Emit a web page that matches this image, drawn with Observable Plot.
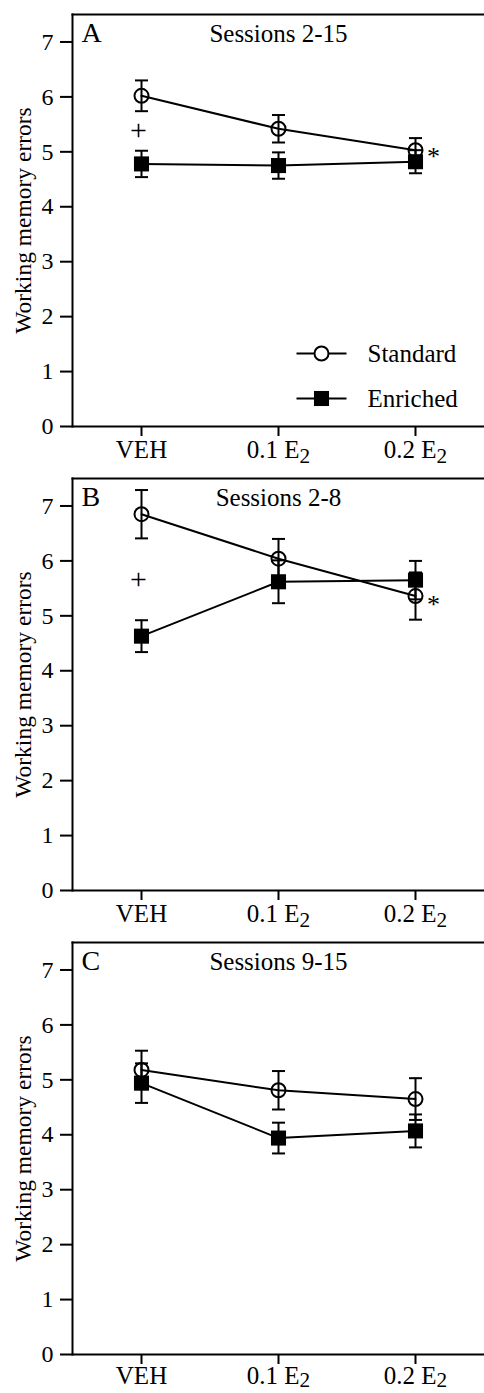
<!DOCTYPE html>
<html>
<head>
<meta charset="utf-8">
<script src="https://cdn.jsdelivr.net/npm/d3@7"></script>
<script src="https://cdn.jsdelivr.net/npm/@observablehq/plot@0.6"></script>
<style>
  html, body { margin: 0; padding: 0; background: #fff; overflow: hidden; }
  #chart { width: 484px; }
  #chart svg { display: block; overflow: visible; }
</style>
</head>
<body>
<div id="chart"></div>
<script>
// ---- data ----
const doses = ["VEH", "0.1 E2", "0.2 E2"];
const panelLetters = ["A", "B", "C"];
const panelTitles = ["Sessions 2-15", "Sessions 2-8", "Sessions 9-15"];
const seriesNames = ["Standard", "Enriched"];
// one row per panel, one value per dose
const standardMeans = [[6.02, 5.42, 5.03], [6.85, 6.04, 5.36], [5.18, 4.81, 4.65]];
const standardSems  = [[0.28, 0.25, 0.22], [0.44, 0.36, 0.43], [0.35, 0.35, 0.38]];
const enrichedMeans = [[4.78, 4.75, 4.82], [4.63, 5.62, 5.65], [4.94, 3.94, 4.07]];
const enrichedSems  = [[0.24, 0.24, 0.21], [0.29, 0.39, 0.35], [0.36, 0.28, 0.30]];
const yTicks = [0, 1, 2, 3, 4, 5, 6, 7];
const yLabel = "Working memory errors";
// significance markers: panel index, dose, value, symbol
const annotPanels  = [0, 0, 1, 1];
const annotDoses   = ["VEH", "0.2 E2", "VEH", "0.2 E2"];
const annotValues  = [5.38, 5.03, 5.64, 5.32];
const annotSymbols = ["+", "*", "+", "*"];

const FONT = "'Liberation Serif', 'Times New Roman', serif";
const lineSymbol = {draw(ctx) { ctx.moveTo(-25, 0); ctx.lineTo(25, 0); }};
const capSymbol = {draw(ctx) { ctx.moveTo(-6.5, 0); ctx.lineTo(6.5, 0); }};

function panel(p) {
  const last = p === 2;
  const rows = [];
  doses.forEach((d, i) => {
    rows.push({series: seriesNames[0], dose: d, mean: standardMeans[p][i], sem: standardSems[p][i]});
    rows.push({series: seriesNames[1], dose: d, mean: enrichedMeans[p][i], sem: enrichedSems[p][i]});
  });
  const std = rows.filter(r => r.series === seriesNames[0]);
  const enr = rows.filter(r => r.series === seriesNames[1]);
  const ann = annotPanels.map((q, i) => ({q, dose: annotDoses[i], value: annotValues[i], symbol: annotSymbols[i]}))
    .filter(a => a.q === p);

  const marks = [
    Plot.frame({anchor: "left", strokeWidth: 2}),
    Plot.frame({anchor: "top", strokeWidth: 2}),
    Plot.frame({anchor: "bottom", strokeWidth: 2}),
    Plot.axisY(yTicks, {tickSize: 12, tickPadding: 7, strokeWidth: 2, fontSize: 24, label: null, tickFormat: d => String(d)}),
    Plot.axisX({tickSize: 10, tickPadding: last ? 2 : 4, strokeWidth: 2, fontSize: 25, label: null}),
    // error bars
    Plot.ruleX(rows, {x: "dose", y1: d => d.mean - d.sem, y2: d => d.mean + d.sem, strokeWidth: 2}),
    Plot.dot(rows, {x: "dose", y: d => d.mean + d.sem, symbol: capSymbol, fill: "none", stroke: "black", strokeWidth: 2}),
    Plot.dot(rows, {x: "dose", y: d => d.mean - d.sem, symbol: capSymbol, fill: "none", stroke: "black", strokeWidth: 2}),
    // connecting lines
    Plot.line(rows, {x: "dose", y: "mean", z: "series", stroke: "black", strokeWidth: 2}),
    // markers
    Plot.dot(std, {x: "dose", y: "mean", r: 7, symbol: "circle", fill: "none", stroke: "black", strokeWidth: 2}),
    Plot.dot(enr, {x: "dose", y: "mean", r: 8.5, symbol: "square", fill: "black", stroke: "none"}),
    // significance markers
    Plot.text(ann.filter(a => a.symbol === "+"), {x: "dose", y: "value", text: "symbol", fontSize: 30, dx: -3, dy: -1, lineAnchor: "middle"}),
    Plot.text(ann.filter(a => a.symbol === "*"), {x: "dose", y: "value", text: "symbol", fontSize: 26, dx: 18, dy: 6, lineAnchor: "middle"}),
    // panel letter and title
    Plot.text([panelLetters[p]], {frameAnchor: "top-left", text: d => d, fontSize: 28, dx: 9, dy: 19, textAnchor: "start", lineAnchor: "middle"}),
    Plot.text([panelTitles[p]], {frameAnchor: "top", text: d => d, fontSize: 25, dy: 19.5, textAnchor: "middle", lineAnchor: "middle"}),
    // y label
    Plot.text([yLabel], {frameAnchor: "left", text: d => d, rotate: -90, fontSize: 23.5, dx: -49.5, textAnchor: "middle", lineAnchor: "middle"})
  ];

  if (p === 0) {
    const legendRows = [{name: seriesNames[0], dy: -73}, {name: seriesNames[1], dy: -28}];
    legendRows.forEach((lr, k) => {
      marks.push(Plot.dot([lr.name], {frameAnchor: "bottom-left", dx: 249, dy: lr.dy, symbol: lineSymbol, fill: "none", stroke: "black", strokeWidth: 2}));
      if (k === 0) marks.push(Plot.dot([lr.name], {frameAnchor: "bottom-left", dx: 249, dy: lr.dy, r: 7, symbol: "circle", fill: "white", stroke: "black", strokeWidth: 2}));
      else marks.push(Plot.dot([lr.name], {frameAnchor: "bottom-left", dx: 249, dy: lr.dy, r: 8.5, symbol: "square", fill: "black", stroke: "none"}));
      marks.push(Plot.text([lr.name], {frameAnchor: "bottom-left", text: d => d, dx: 295, dy: lr.dy, fontSize: 25, textAnchor: "start", lineAnchor: "middle"}));
    });
  }

  const svg = Plot.plot({
    width: 484,
    height: last ? 465 : 464,
    marginLeft: 72,
    marginRight: 0,
    marginTop: 14,
    marginBottom: last ? 39 : 38,
    style: {fontFamily: FONT, fontSize: "24px", color: "black", background: "transparent", overflow: "visible"},
    x: {type: "point", domain: doses, padding: 0.5},
    y: {domain: [0, 7.5]},
    marks
  });

  // subscripts in dose labels (E2 -> E with subscript 2)
  svg.querySelectorAll('[aria-label="x-axis tick label"] text').forEach(t => {
    const m = t.textContent.match(/^(.*E)(\d)$/);
    if (m) {
      t.textContent = m[1];
      const ts = document.createElementNS("http://www.w3.org/2000/svg", "tspan");
      ts.setAttribute("font-size", "85%");
      ts.setAttribute("dy", last ? "0.15em" : "0.22em");
      ts.textContent = m[2];
      t.appendChild(ts);
    }
  });
  return svg;
}

const chart = document.getElementById("chart");
[0, 1, 2].forEach(p => chart.appendChild(panel(p)));
</script>
</body>
</html>
